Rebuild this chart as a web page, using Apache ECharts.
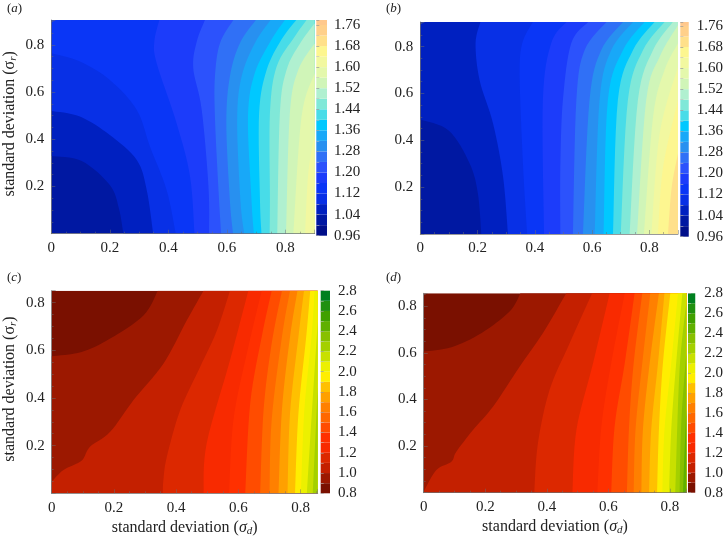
<!DOCTYPE html>
<html><head><meta charset="utf-8">
<style>html,body{margin:0;padding:0;background:#fff}#c{width:726px;height:539px}</style>
<script src="https://cdn.jsdelivr.net/npm/echarts@6/dist/echarts.min.js"></script>
</head><body><div id="c"></div>
<script>
const panelLetters = ['a','b','c','d'];
const coloursBlue = ['#000f8a','#0018a2','#0020c0','#0830e6','#0a36f6','#1c3cfa','#2c52fc','#3070f6','#2890f0','#18a8f8','#00c8ff','#48dce8','#80e8d8','#b0f0d0','#d0f5b8','#e4f8ac','#f2f8a0','#fdf690','#ffe08a','#ffd08a','#ffc88c'];
const coloursRed = ['#7a1000','#9c1800','#c42000','#dc2800','#f82a00','#ff3000','#ff4c00','#ff6800','#ff8000','#ffa000','#ffc000','#ffee00','#ecf000','#c8e000','#a4d000','#88c000','#60b000','#40a000','#209010','#008020'];
const levelsBlue = [1.00,1.04,1.08,1.12,1.16,1.20,1.24,1.28,1.32,1.36,1.40,1.44,1.48,1.52,1.56,1.60,1.64];
const levelsRed = [0.9,1.0,1.1,1.2,1.3,1.4,1.5,1.6,1.7,1.8,1.9,2.0,2.1,2.2,2.3,2.4];

const contoursA = [
 [[0,.329],[.104,.308],[.200,.206],[.231,.107],[.246,0]],
 [[0,.520],[.098,.496],[.200,.418],[.292,.312],[.326,.185],[.348,0]],
 [[0,.764],[.098,.729],[.200,.651],[.292,.524],[.337,.369],[.394,.185],[.425,0]],
 [[.369,.905],[.352,.814],[.360,.722],[.428,.468],[.474,.242],[.489,0]],
 [[.525,.905],[.497,.814],[.485,.701],[.514,.524],[.537,.199],[.539,0]],
 [[.622,.905],[.576,.806],[.559,.665],[.559,.496],[.570,.213],[.580,0]],
 [[.699,.905],[.644,.806],[.610,.665],[.598,.468],[.610,.143],[.621,0]],
 [[.749,.905],[.695,.806],[.650,.665],[.635,.482],[.646,.143],[.659,0]],
 [[.798,.905],[.752,.821],[.695,.679],[.672,.496],[.684,.143],[.692,0]],
 [[.837,.905],[.786,.821],[.736,.694],[.710,.510],[.713,.143],[.718,0]],
 [[.872,.905],[.832,.835],[.770,.708],[.747,.510],[.747,.143],[.746,0]],
 [[.9,.891],[.850,.806],[.804,.694],[.781,.510],[.772,0]],
 [[.9,.806],[.844,.694],[.815,.510],[.802,0]],
 [[.9,.679],[.855,.496],[.827,0]],
 [[.9,.425],[.878,.256],[.867,0]]
];
const contoursB = [
 [[0,.489],[.100,.441],[.172,.302],[.201,.174],[.213,0]],
 [[.210,.905],[.193,.814],[.207,.657],[.254,.472],[.289,.245],[.306,0]],
 [[.393,.905],[.356,.814],[.347,.671],[.359,.287],[.373,0]],
 [[.510,.905],[.457,.814],[.428,.572],[.432,0]],
 [[.586,.905],[.527,.814],[.498,.572],[.489,.287],[.489,0]],
 [[.650,.905],[.574,.785],[.545,.572],[.533,0]],
 [[.708,.905],[.632,.785],[.591,.572],[.568,0]],
 [[.743,.905],[.667,.785],[.626,.572],[.609,0]],
 [[.783,.905],[.708,.785],[.655,.572],[.640,0]],
 [[.818,.905],[.743,.785],[.690,.572],[.673,0]],
 [[.853,.905],[.778,.785],[.725,.572],[.700,0]],
 [[.882,.905],[.813,.785],[.760,.572],[.731,0]],
 [[.9,.892],[.836,.757],[.789,.572],[.757,0]],
 [[.9,.814],[.853,.700],[.813,.501],[.781,0]],
 [[.9,.714],[.836,.430],[.807,0]],
 [[.9,.572],[.848,.287],[.830,0]],
 [[.9,.344],[.878,.200],[.865,0]]
];
const contoursC = [
 [[.341,.85],[.295,.746],[.188,.649],[.096,.593],[0,.575]],
 [[.488,.85],[.434,.725],[.359,.544],[.263,.391],[.188,.258],[.123,.195],[.096,.137],[.038,.098],[0,.049]],
 [[.573,.85],[.531,.683],[.477,.530],[.413,.349],[.370,.153],[.359,.056],[.357,0]],
 [[.632,.85],[.573,.558],[.498,.209],[.488,0]],
 [[.675,.85],[.627,.586],[.584,.307],[.570,0]],
 [[.707,.85],[.675,.656],[.638,.377],[.622,0]],
 [[.740,.85],[.707,.628],[.681,.349],[.670,0]],
 [[.766,.85],[.740,.656],[.707,.307],[.700,0]],
 [[.790,.85],[.766,.656],[.740,.349],[.729,0]],
 [[.811,.85],[.793,.656],[.766,.335],[.758,0]],
 [[.831,.85],[.818,.656],[.793,.335],[.782,0]],
 [[.845,.85],[.835,.656],[.812,.349],[.801,0]],
 [[.855,.72],[.836,.335],[.820,0]],
 [[.855,.446],[.839,0]]
];
const contoursD = [
 [[.314,.855],[.279,.777],[.187,.684],[.090,.624],[0,.605]],
 [[.463,.855],[.387,.684],[.312,.541],[.225,.369],[.160,.269],[.106,.176],[.090,.133],[.041,.097],[0,.005]],
 [[.547,.855],[.474,.641],[.409,.441],[.371,.212],[.359,0]],
 [[.604,.855],[.550,.555],[.496,.269],[.483,0]],
 [[.653,.855],[.609,.555],[.577,.283],[.564,0]],
 [[.685,.855],[.653,.555],[.620,.283],[.609,0]],
 [[.710,.855],[.682,.555],[.667,.283],[.660,0]],
 [[.736,.855],[.710,.555],[.688,.269],[.682,0]],
 [[.764,.855],[.734,.555],[.712,.269],[.707,0]],
 [[.782,.855],[.761,.555],[.739,.269],[.732,0]],
 [[.801,.855],[.777,.555],[.764,.269],[.758,0]],
 [[.826,.855],[.804,.555],[.782,.269],[.775,0]],
 [[.840,.855],[.820,.555],[.804,.269],[.797,0]],
 [[.853,.813],[.831,.526],[.817,0]],
 [[.853,.598],[.837,.312],[.831,0]],
 [[.853,.355],[.847,.169],[.842,0]]
];
const xMaxes = [.9,.9,.855,.853];
const yMaxes = [.905,.905,.85,.855];
const barMaxes = [1.779,1.775,2.8,2.8];
const colourOffsets = [1,1,0,0];

const FONT = '"Liberation Serif","Times New Roman",serif';
const plotBoxes = [
 {left:51.3,top:20,width:263.4,height:213.7},
 {left:420.3,top:22,width:257.7,height:212},
 {left:51.7,top:290.7,width:266,height:202.6},
 {left:423.7,top:293.3,width:262.6,height:199.4}];
const barBoxes = [
 {left:316.3,top:20,width:10.7,height:215.7},
 {left:680.3,top:22,width:9.7,height:214.7},
 {left:320.7,top:290.7,width:9.3,height:202.6},
 {left:688,top:293.3,width:9.7,height:199.4}];
const barLabelGaps = [7,8,8,9];

const contourSets = [contoursA,contoursB,contoursC,contoursD];
const isBlue = [true,true,false,false];

function perimeter(p,xm,ym){
  const d=[p[0]/xm,p[1]/ym,(xm-p[0])/xm,(ym-p[1])/ym];
  const e=d.indexOf(Math.min(...d));
  if(e===0) return {t:1-p[1]/ym,p:[0,p[1]]};
  if(e===1) return {t:1+p[0]/xm,p:[p[0],0]};
  if(e===2) return {t:2+p[1]/ym,p:[xm,p[1]]};
  return {t:3+(1-p[0]/xm),p:[p[0],ym]};
}
// smooth the contour on screen (rendering only); the read-off points stay as they are
function curved(pts){
  const out=[];
  for(let i=0;i<pts.length-1;i++){
    const p0=pts[Math.max(i-1,0)],p1=pts[i],p2=pts[i+1],p3=pts[Math.min(i+2,pts.length-1)];
    for(let s=0;s<8;s++){
      const t=s/8,a=.5*t,t2=t*t,t3=t2*t;
      const f=k=>.5*(2*p1[k]+(p2[k]-p0[k])*t+(2*p0[k]-5*p1[k]+4*p2[k]-p3[k])*t2+(3*p1[k]-p0[k]-3*p2[k]+p3[k])*t3);
      out.push([f(0),f(1)]);
    }
  }
  out.push(pts[pts.length-1]);
  return out;
}
function closedRegion(line,xm,ym,api){
  const s=perimeter(line[0],xm,ym), e=perimeter(line[line.length-1],xm,ym);
  const corners=[[0,ym],[0,0],[xm,0],[xm,ym]];
  const edge=[s.p,...line.slice(1,-1),e.p].map(p=>api.coord(p));
  const out=curved(edge);
  let ts=s.t; if(ts<=e.t) ts+=4;
  for(let k=Math.floor(e.t)+1;k<ts;k++) out.push(api.coord(corners[k%4]));
  return out;
}

const grids=[],xAxes=[],yAxes=[],series=[];
const tickStyle={color:'rgba(110,110,110,.7)',width:.7};
panelLetters.forEach((_,i)=>{
  const xm=xMaxes[i], ym=yMaxes[i], blue=isBlue[i];
  const cols=blue?coloursBlue:coloursRed;
  const gi=grids.length;
  grids.push(plotBoxes[i],barBoxes[i]);
  xAxes.push({gridIndex:gi,type:'value',min:0,max:xm,interval:.2,z:5,
    name: i>=2?'{a|standard deviation (}{g|σ}{s|d}{a|)}':'',nameLocation:'middle',nameGap:26,
    nameTextStyle:{rich:{a:{fontFamily:FONT,fontSize:16,color:'#222'},g:{fontFamily:FONT,fontSize:16,fontStyle:'italic',color:'#222'},s:{fontFamily:FONT,fontSize:11,fontStyle:'italic',color:'#222',padding:[6,0,0,0]}}},
    splitLine:{show:false},
    axisLine:{show:true,onZero:false,lineStyle:{color:'rgba(110,110,110,.7)',width:1}},
    axisTick:{inside:true,length:4,lineStyle:tickStyle},
    minorTick:{show:true,splitNumber:4,length:2,lineStyle:tickStyle},
    axisLabel:{fontFamily:FONT,fontSize:15,color:'#222',margin:7,showMaxLabel:false,formatter:v=>v===0?'0':v.toFixed(1)}});
  yAxes.push({gridIndex:gi,type:'value',min:0,max:ym,interval:.2,z:5,
    name: i%2===0?'{a|standard deviation (σ}{s|r}{a|)}':'',nameLocation:'middle',nameGap:33,nameRotate:90,
    nameTextStyle:{padding:[0,0,0,6],rich:{a:{fontFamily:FONT,fontSize:16,color:'#222'},s:{fontFamily:FONT,fontSize:11,fontStyle:'italic',color:'#222',padding:[6,0,0,0]}}},
    splitLine:{show:false},
    axisLine:{show:true,onZero:false,lineStyle:{color:'rgba(110,110,110,.7)',width:1}},
    axisTick:{inside:true,length:4,lineStyle:tickStyle},
    minorTick:{show:true,splitNumber:4,length:2,lineStyle:tickStyle},
    axisLabel:{fontFamily:FONT,fontSize:15,color:'#222',margin:7,showMinLabel:false,showMaxLabel:false,formatter:v=>v.toFixed(1)}});
  const levels=blue?levelsBlue:levelsRed;
  const lines=contourSets[i];
  const off=colourOffsets[i];
  series.push({type:'custom',xAxisIndex:gi,yAxisIndex:gi,silent:true,clip:true,z:2,
    data:[0].concat(levels.slice(0,lines.length)).map((l,k)=>[k,l]),
    encode:{x:0,y:-1},
    renderItem:(params,api)=>{
      const k=params.dataIndex;
      const region=k===0?[[0,ym],[0,0],[xm,0],[xm,ym]].map(p=>api.coord(p)):closedRegion(lines[k-1],xm,ym,api);
      return {type:'polygon',shape:{points:region},style:{fill:cols[k+off]}};
    }});
  // colour bar
  const low=blue?.96:.8, step=blue?.04:.1, top=barMaxes[i];
  const bands=cols.map((c,k)=>[low+k*step,Math.min(low+(k+1)*step,top),c]);
  xAxes.push({gridIndex:gi+1,type:'value',min:0,max:1,show:false});
  yAxes.push({gridIndex:gi+1,type:'value',position:'right',min:low,max:top,interval:blue?.08:.2,z:5,
    splitLine:{show:false},axisLine:{show:false},
    axisTick:{show:true,length:3,lineStyle:{color:'#999',width:.7}},
    minorTick:{show:true,splitNumber:2,length:3,lineStyle:{color:'#bbb',width:.6}},
    axisLabel:{fontFamily:FONT,fontSize:15,color:'#222',margin:barLabelGaps[i],showMaxLabel:i>=2,formatter:v=>blue?v.toFixed(2):v.toFixed(1)}});
  series.push({type:'custom',xAxisIndex:gi+1,yAxisIndex:gi+1,silent:true,z:2,
    data:bands.map(b=>[b[0],b[1]]),encode:{x:-1,y:[0,1]},
    renderItem:(params,api)=>{
      const b=bands[params.dataIndex];
      const p0=api.coord([0,b[0]]),p1=api.coord([1,b[1]]);
      return {type:'rect',shape:{x:p0[0],y:p1[1],width:p1[0]-p0[0],height:p0[1]-p1[1]},style:{fill:b[2]}};
    }});
});
const letterPos=[[7,9],[386,9],[7,278],[386,278]];
const graphics=panelLetters.map((l,i)=>({type:'text',x:letterPos[i][0],y:letterPos[i][1],silent:true,
  style:{text:'{p|(}{l|'+l+'}{p|)}',verticalAlign:'middle',rich:{p:{fontFamily:FONT,fontSize:13,fill:'#222'},l:{fontFamily:FONT,fontSize:13,fontStyle:'italic',fill:'#222'}}}}));
const chart=echarts.init(document.getElementById('c'),null,{renderer:'canvas'});
chart.setOption({animation:false,backgroundColor:'#fff',grid:grids,xAxis:xAxes,yAxis:yAxes,series:series,graphic:graphics});
</script></body></html>
